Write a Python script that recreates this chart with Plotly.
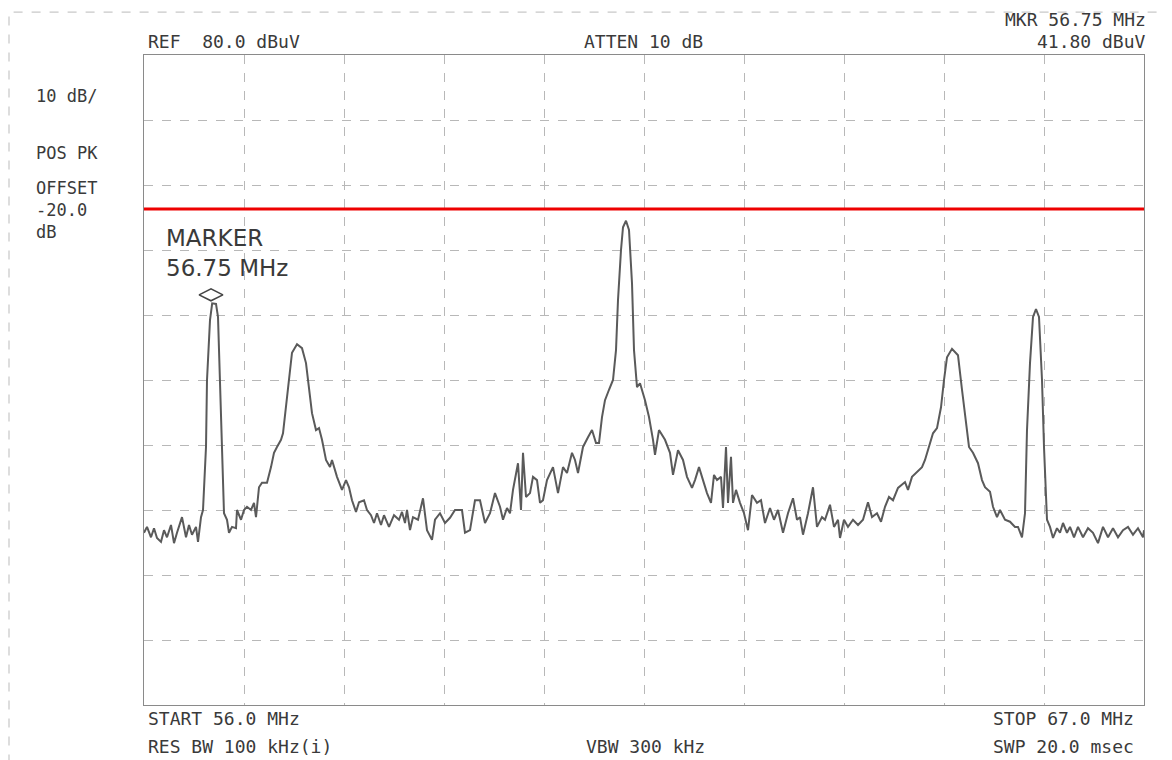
import plotly.graph_objects as go

# Frequency (MHz) of trace points
freq_mhz = [
    56.000, 56.033, 56.077, 56.110, 56.143, 56.187, 56.220, 56.253, 56.297, 56.330,
    56.363, 56.418, 56.462, 56.495, 56.528, 56.572, 56.594, 56.627, 56.649, 56.682,
    56.693, 56.726, 56.750, 56.792, 56.814, 56.836, 56.858, 56.880, 56.913, 56.935,
    56.968, 57.012, 57.023, 57.067, 57.100, 57.133, 57.177, 57.210, 57.232, 57.265,
    57.298, 57.353, 57.397, 57.430, 57.463, 57.507, 57.529, 57.562, 57.595, 57.628,
    57.683, 57.738, 57.782, 57.815, 57.848, 57.892, 57.925, 57.958, 58.002, 58.046,
    58.068, 58.123, 58.178, 58.222, 58.255, 58.288, 58.332, 58.365, 58.420, 58.453,
    58.497, 58.530, 58.563, 58.607, 58.640, 58.695, 58.750, 58.805, 58.838,
    58.871, 58.893, 58.926, 58.959, 59.014, 59.069, 59.113, 59.168, 59.201, 59.256,
    59.311, 59.366, 59.421, 59.498, 59.531, 59.586, 59.641, 59.696, 59.751, 59.806,
    59.861, 59.916, 59.949, 59.993, 60.026, 60.059, 60.114, 60.147, 60.169, 60.202,
    60.246, 60.279, 60.323, 60.356, 60.389, 60.433, 60.499, 60.554, 60.609, 60.653,
    60.708, 60.741, 60.774, 60.829, 60.884, 60.928, 60.972, 61.005, 61.038, 61.071,
    61.115, 61.159, 61.192, 61.214, 61.247, 61.269, 61.302, 61.335, 61.368, 61.390,
    61.423, 61.456, 61.511, 61.555, 61.599, 61.621, 61.665,
    61.731, 61.786, 61.819, 61.874, 61.929, 61.973, 62.028, 62.061, 62.105, 62.149,
    62.193, 62.237, 62.270, 62.303, 62.347, 62.369, 62.402, 62.424, 62.457, 62.479,
    62.512, 62.556, 62.600, 62.644, 62.688, 62.743, 62.787, 62.831, 62.886, 62.930,
    62.974, 63.029, 63.084, 63.139, 63.183, 63.216, 63.249, 63.304, 63.359, 63.403,
    63.458, 63.491, 63.546, 63.590, 63.634, 63.656, 63.700, 63.744, 63.799, 63.854,
    63.909, 63.964, 64.008, 64.063, 64.107, 64.151, 64.195, 64.239, 64.294,
    64.371, 64.404, 64.448, 64.503, 64.558, 64.591, 64.646, 64.679, 64.723, 64.767,
    64.800, 64.833, 64.888, 64.954, 64.998, 65.031, 65.075, 65.119, 65.174, 65.218,
    65.251, 65.306, 65.339, 65.383, 65.416, 65.471, 65.526, 65.581, 65.614, 65.658,
    65.691, 65.713, 65.746, 65.779, 65.812, 65.845, 65.878, 65.900, 65.933, 65.966,
    65.999, 66.043, 66.076, 66.109, 66.153, 66.186, 66.230, 66.274, 66.329, 66.384,
    66.439, 66.494, 66.549, 66.604, 66.659, 66.714, 66.769, 66.824, 66.879, 66.934,
    66.989, 67.000,
]

# Level (dBuV) of trace points
level_dbuv = [
    6.5, 7.4, 5.8, 7.2, 5.7, 5.1, 6.9, 5.8, 7.7, 4.9,
    6.5, 8.9, 5.8, 7.7, 6.2, 7.4, 5.1, 8.9, 10.0, 19.7,
    30.0, 39.2, 41.8, 41.7, 39.7, 30.0, 19.7, 9.5, 8.5, 6.5,
    7.4, 7.2, 10.0, 8.5, 10.0, 10.5, 10.0, 11.1, 8.9, 13.5,
    14.2, 14.2, 16.6, 18.8, 19.7, 20.8, 21.8, 25.8, 30.0, 34.2,
    35.5, 34.9, 32.6, 28.5, 24.9, 22.3, 22.6, 20.8, 17.7, 16.6,
    17.7, 15.1, 13.1, 14.6, 13.5, 11.5, 9.7, 11.2, 11.5, 10.0,
    9.2, 8.0, 9.5, 7.7, 9.2, 7.4, 9.2, 8.5, 9.7,
    8.0, 10.0, 6.9, 8.9, 8.5, 11.8, 6.9, 5.4, 8.5, 9.5,
    8.0, 8.8, 10.0, 10.0, 6.5, 6.9, 11.5, 11.5, 8.0, 9.5,
    12.6, 10.5, 8.5, 10.3, 9.5, 13.1, 17.2, 10.0, 18.8, 12.0,
    12.6, 15.1, 14.6, 11.1, 11.5, 14.6, 16.6, 12.6, 16.6, 15.7,
    18.8, 17.7, 15.7, 19.7, 21.2, 22.3, 20.3, 20.3, 24.3, 26.9,
    28.5, 30.0, 34.6, 42.3, 50.0, 53.5, 54.5, 53.1, 44.9, 34.6,
    28.9, 29.5, 26.9, 24.3, 20.8, 18.5, 22.3,
    20.8, 18.8, 15.4, 19.2, 17.7, 15.1, 13.4, 14.6, 16.6, 14.6,
    12.6, 11.1, 15.4, 14.6, 15.1, 10.3, 19.7, 11.1, 18.2, 11.1,
    13.1, 11.1, 9.5, 6.9, 12.3, 11.1, 11.5, 8.0, 10.3, 8.5,
    10.0, 6.5, 9.5, 11.8, 8.5, 8.9, 6.2, 9.5, 13.5, 7.4,
    8.9, 8.5, 10.8, 7.4, 8.5, 5.7, 8.5, 7.4, 8.5, 7.7,
    8.5, 11.2, 8.9, 9.5, 8.2, 10.5, 12.0, 11.5, 13.4,
    14.3, 13.1, 15.1, 15.8, 16.6, 17.7, 20.3, 21.8, 22.6, 25.8,
    30.0, 33.5, 34.8, 33.8, 28.5, 24.9, 19.7, 18.8, 17.2, 14.6,
    13.5, 12.8, 10.5, 8.9, 10.0, 8.5, 8.2, 7.4, 7.4, 5.8,
    9.5, 22.3, 32.6, 39.7, 40.9, 39.7, 30.0, 19.7, 8.5, 7.4,
    5.7, 7.2, 6.5, 8.0, 6.5, 7.4, 5.8, 7.4, 5.8, 7.2,
    6.5, 4.9, 7.4, 5.8, 7.2, 5.8, 6.9, 7.4, 6.2, 7.2,
    5.8, 6.9,
]

START_MHZ = 56.0
STOP_MHZ = 67.0
REF_DBUV = 80.0
DB_PER_DIV = 10
MARKER_FREQ = 56.75
MARKER_LEVEL = 41.80
LIMIT_LEVEL = 56.3

FONT = "DejaVu Sans Mono"
TXT = "#3a3a3a"

fig = go.Figure()
fig.add_trace(go.Scatter(
    x=freq_mhz, y=level_dbuv, mode="lines",
    line=dict(color="#5a5a5a", width=2), hoverinfo="skip", showlegend=False,
))
# marker diamond drawn just above the marked peak
fig.add_trace(go.Scatter(
    x=[MARKER_FREQ - 0.013], y=[MARKER_LEVEL + 1.3], mode="markers",
    marker=dict(symbol="diamond-wide-open", size=17, color="#444", line=dict(width=1.6, color="#444")),
    hoverinfo="skip", showlegend=False,
))

# red limit line
fig.add_shape(type="line", xref="paper", x0=0, x1=1, yref="y", y0=LIMIT_LEVEL, y1=LIMIT_LEVEL,
              line=dict(color="#ee0000", width=3), layer="above")

# outer scanned frame (left and top)
fig.add_shape(type="path", xref="paper", yref="paper",
              path="M -0.135 -0.09 L -0.135 1.066 L 1.03 1.066",
              line=dict(color="#bbbbbb", width=1, dash="dash"))

# positions below are given in page pixels of the plot frame (plot area: x 144..1144, y 55..705)
def txt(x, y, s, anchor="left", size=15, font=FONT):
    fig.add_annotation(xref="paper", yref="paper", x=(x - 144) / 1000, y=(705 - y) / 650,
                       text=s, showarrow=False, xanchor=anchor, yanchor="middle",
                       font=dict(family=font, size=size, color=TXT))

txt(146, 42, f"REF  {REF_DBUV:.1f} dBuV", size=18)
txt(643, 42, "ATTEN 10 dB", anchor="center", size=18)
txt(1148, 20, f"MKR {MARKER_FREQ:.2f} MHz", anchor="right", size=18)
txt(1148, 42, f"{MARKER_LEVEL:.2f} dBuV", anchor="right", size=18)
txt(34, 96, f"{DB_PER_DIV} dB/", size=17)
txt(34, 153, "POS PK", size=17)
txt(34, 188, "OFFSET", size=17)
txt(34, 210, "-20.0", size=17)
txt(34, 232, "dB", size=17)
txt(164, 238, "MARKER", size=23, font="DejaVu Sans")
txt(164, 268, f"{MARKER_FREQ:.2f} MHz", size=23, font="DejaVu Sans")
txt(146, 718, f"START {START_MHZ:.1f} MHz", size=18)
txt(146, 746, "RES BW 100 kHz(i)", size=18)
txt(645, 746, "VBW 300 kHz", anchor="center", size=18)
txt(1136, 718, f"STOP {STOP_MHZ:.1f} MHz", anchor="right", size=18)
txt(1136, 746, "SWP 20.0 msec", anchor="right", size=18)

axis_common = dict(showticklabels=False, ticks="", zeroline=False, showgrid=True,
                   gridcolor="#b8b8b8", griddash="dash", gridwidth=1,
                   showline=True, linecolor="#8a8a8a", linewidth=1, mirror=True)
fig.update_xaxes(range=[START_MHZ, STOP_MHZ], tick0=START_MHZ, dtick=(STOP_MHZ - START_MHZ) / 10,
                 **axis_common)
fig.update_yaxes(range=[REF_DBUV - 10 * DB_PER_DIV, REF_DBUV], tick0=0, dtick=DB_PER_DIV,
                 **axis_common)

# the page body adds an 8 px margin, so the figure is 8 px smaller on each axis
fig.update_layout(
    width=1164, height=752,
    margin=dict(l=136, r=28, t=47, b=55),
    paper_bgcolor="white", plot_bgcolor="white",
    showlegend=False,
)

fig.write_html("out.html")
